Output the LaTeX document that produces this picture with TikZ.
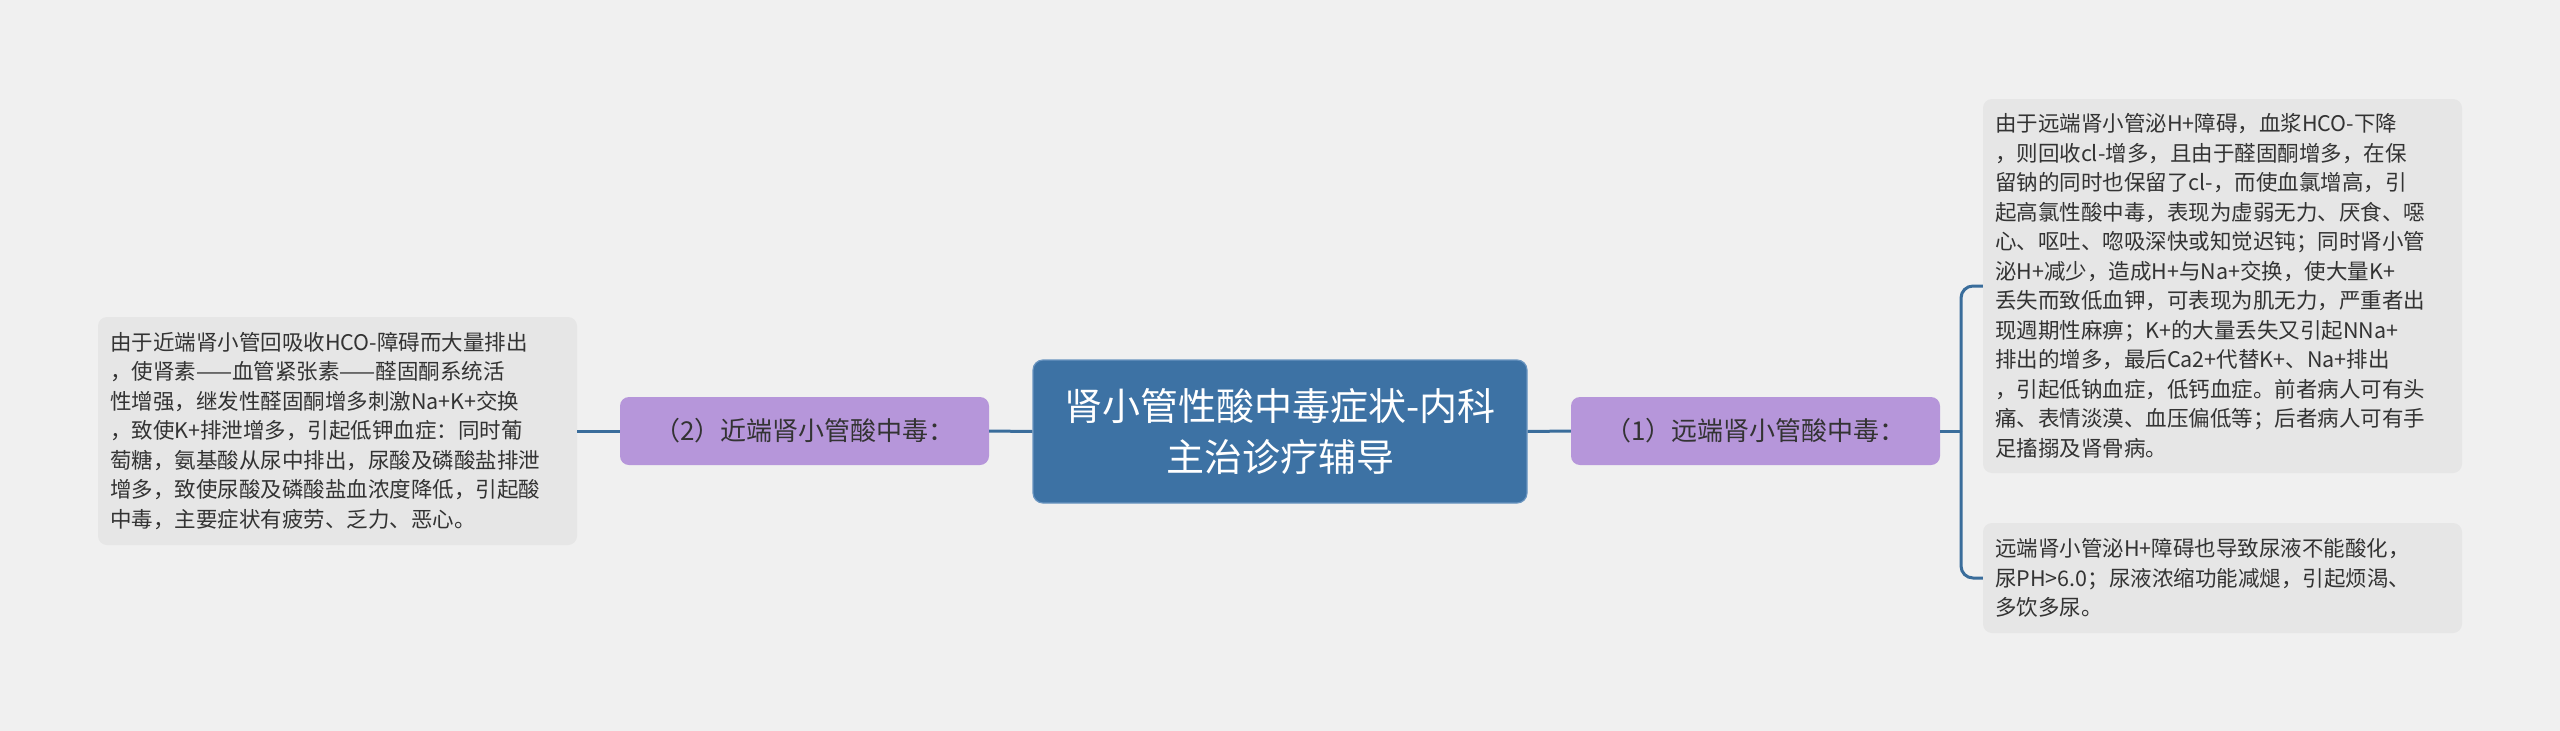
\documentclass[tikz,border=0pt]{standalone}
\usepackage{fontspec}
\setmainfont{Noto Sans CJK SC}
\definecolor{bgc}{HTML}{F0F0F0}
\definecolor{leafc}{HTML}{E6E6E6}
\definecolor{purp}{HTML}{B696DA}
\definecolor{mainc}{HTML}{3D72A4}
\definecolor{mainedge}{HTML}{6A95C0}
\definecolor{linec}{HTML}{3A6D9B}
\definecolor{txt}{HTML}{333333}
\tikzset{
  leaf/.style={fill=leafc, rounded corners=9, align=left, text=txt, inner xsep=12, inner ysep=0,
    text width=455, font=\fontsize{21.5}{29.5}\selectfont},
  subbox/.style={fill=purp, rounded corners=9, align=center, text=txt, inner sep=0,
    font=\fontsize{26}{32}\selectfont, minimum width=369, minimum height=68},
  mainbox/.style={fill=mainc, draw=mainedge, line width=1.2, rounded corners=10, align=center,
    text=white, inner sep=0, font=\fontsize{38}{51}\selectfont, minimum width=494, minimum height=143},
  conn/.style={draw=linec, line width=3}
}
\begin{document}
\begin{tikzpicture}[x=1pt,y=-1pt]
\fill[bgc] (0,0) rectangle (2560,731);
\useasboundingbox (0,0) rectangle (2560,731);

\node[mainbox] (c) at (1280,431.5) {肾小管性酸中毒症状-内科\\主治诊疗辅导};

\node[subbox] (lp) at (804.5,431) {（2）近端肾小管酸中毒：};
\node[subbox] (rp) at (1755.5,431) {（1）远端肾小管酸中毒：};

\node[leaf, minimum height=228] (ll) at (337.5,431) {%
由于近端肾小管回吸收HCO-障碍而大量排出\\
，使肾素——血管紧张素——醛固酮系统活\\
性增强，继发性醛固酮增多刺激Na+K+交换\\
，致使K+排泄增多，引起低钾血症：同时葡\\
萄糖，氨基酸从尿中排出，尿酸及磷酸盐排泄\\
增多，致使尿酸及磷酸盐血浓度降低，引起酸\\
中毒，主要症状有疲劳、乏力、恶心。};

\node[leaf, minimum height=374] (r1) at (2222.5,286) {%
由于远端肾小管泌H+障碍，血浆HCO-下降\\
，则回收cl-增多，且由于醛固酮增多，在保\\
留钠的同时也保留了cl-，而使血氯增高，引\\
起高氯性酸中毒，表现为虚弱无力、厌食、噁\\
心、呕吐、唿吸深快或知觉迟钝；同时肾小管\\
泌H+减少，造成H+与Na+交换，使大量K+\\
丢失而致低血钾，可表现为肌无力，严重者出\\
现週期性麻痹；K+的大量丢失又引起NNa+\\
排出的增多，最后Ca2+代替K+、Na+排出\\
，引起低钠血症，低钙血症。前者病人可有头\\
痛、表情淡漠、血压偏低等；后者病人可有手\\
足搐搦及肾骨病。};

\node[leaf, minimum height=110] (r2) at (2222.5,578) {%
远端肾小管泌H+障碍也导致尿液不能酸化，\\
尿PH>6.0；尿液浓缩功能减煺，引起烦渴、\\
多饮多尿。};

\draw[conn] (c.west) -- (lp.east);
\draw[conn] (lp.west) -- (ll.east);
\draw[conn] (c.east) -- (rp.west);
\coordinate (bx) at (1961,431);
\draw[conn] (rp.east) -- (bx);
\draw[conn, rounded corners=12] (bx) |- (r1.west);
\draw[conn, rounded corners=12] (bx) |- (r2.west);
\end{tikzpicture}
\end{document}
